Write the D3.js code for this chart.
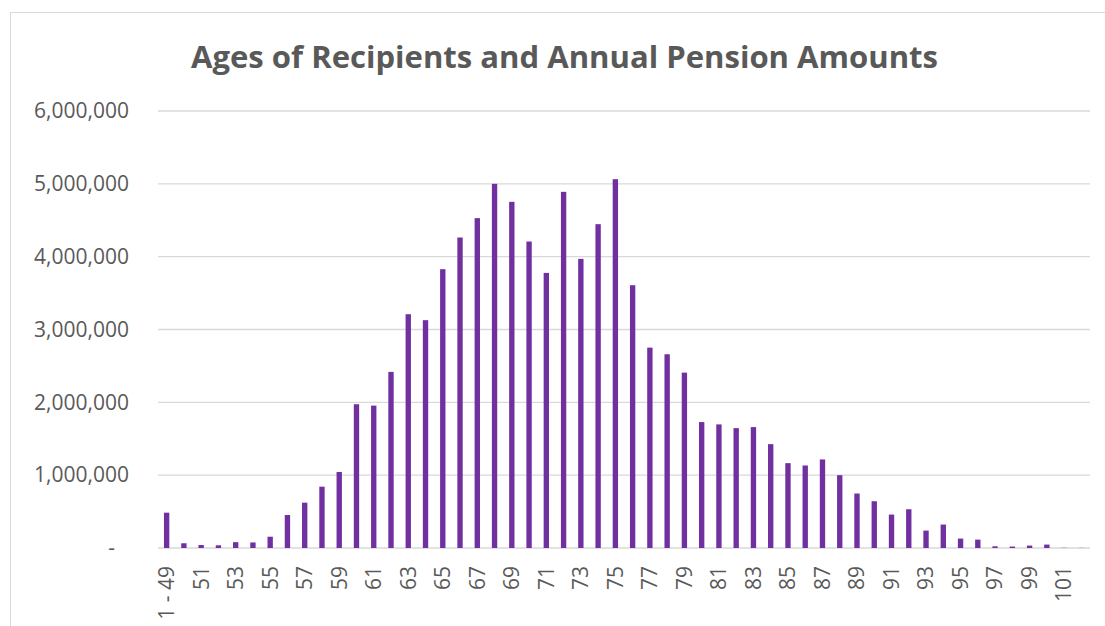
<!DOCTYPE html>
<html>
<head>
<meta charset="utf-8">
<script src="https://cdn.jsdelivr.net/npm/d3@7"></script>
<style>
  body { margin: 0; background: #fff; }
  text { font-family: "Open Sans", "Liberation Sans", sans-serif; fill: #595959; }
</style>
</head>
<body>
<div id="chart"></div>
<script>
// AGES OF RECIPIENTS BAR CHART

// Data

var ages = ["1 - 49"];
for (var a = 50; a <= 102; a++) { ages.push(String(a)); }

var amounts = [
    485000,  65000,  41000,  37000,  80000,  76000, 155000, 453000, 622000, 842000,   // 1-49 .. 58
   1044000, 1974000, 1955000, 2418000, 3210000, 3128000, 3828000, 4263000, 4529000, 5000000, // 59 .. 68
   4753000, 4208000, 3777000, 4890000, 3970000, 4446000, 5064000, 3608000, 2751000, 2660000, // 69 .. 78
   2408000, 1729000, 1697000, 1646000, 1660000, 1426000, 1165000, 1133000, 1216000, 1000000, // 79 .. 88
    748000,  642000,  459000,  532000,  239000,  322000,  129000,  115000,   23000,   20000, // 89 .. 98
     33000,   47000,    3000,    2000                                                      // 99 .. 102
];

var yTicks = [0, 1000000, 2000000, 3000000, 4000000, 5000000, 6000000];
var title = "Ages of Recipients and Annual Pension Amounts";

// Chart variables

var W = 1105, H = 626;
var margin = {top: 111, right: 15, bottom: 78, left: 158};
var width = 1090 - margin.left;
var height = 548 - margin.top;

var svg = d3.select("#chart")
            .append("svg")
            .attr("width", W)
            .attr("height", H);

// Chart frame

svg.append("rect")
   .attr("x", 10.5).attr("y", 12.5)
   .attr("width", 1200).attr("height", 700)
   .attr("fill", "none")
   .attr("stroke", "#d9d9d9")
   .attr("stroke-width", 1);

// Title

svg.append("text")
   .attr("x", 564.5)
   .attr("y", 68)
   .attr("text-anchor", "middle")
   .attr("font-weight", "bold")
   .attr("font-size", 31)
   .attr("textLength", 747)
   .attr("lengthAdjust", "spacingAndGlyphs")
   .text(title);

var g = svg.append("g")
           .attr("transform", "translate(" + margin.left + "," + margin.top + ")");

// Scales

var x = d3.scaleBand()
          .range([0, width])
          .paddingInner(0.69)
          .paddingOuter(0.345)
          .domain(ages);

var y = d3.scaleLinear()
          .range([height, 0])
          .domain([0, 6000000]);

// Gridlines

g.selectAll(".grid")
 .data(yTicks)
 .enter()
 .append("line")
 .attr("class", "grid")
 .attr("x1", 0).attr("x2", width)
 .attr("y1", function(d) { return y(d); })
 .attr("y2", function(d) { return y(d); })
 .attr("stroke", "#d9d9d9")
 .attr("stroke-width", 1.3);

// Bars

g.selectAll(".bar")
 .data(amounts)
 .enter()
 .append("rect")
 .attr("class", "bar")
 .attr("x", function(d, i) { return x(ages[i]); })
 .attr("width", x.bandwidth())
 .attr("y", function(d) { return y(d); })
 .attr("height", function(d) { return height - y(d); })
 .attr("fill", "#7030a0");

// Y axis

var fmt = d3.format(",");
var yAxis = g.append("g")
             .call(d3.axisLeft(y)
                     .tickValues(yTicks)
                     .tickSize(0)
                     .tickPadding(29)
                     .tickFormat(function(d) { return d === 0 ? "-" : fmt(d); }));
yAxis.select(".domain").remove();
yAxis.selectAll("text")
     .attr("font-size", 21)
     .attr("fill", "#595959")
     .attr("font-family", "Open Sans, sans-serif");
yAxis.selectAll(".tick")
     .filter(function(d) { return d === 0; })
     .select("text")
     .attr("dx", -14);

// X axis

var xAxis = g.append("g")
             .attr("transform", "translate(0," + height + ")")
             .call(d3.axisBottom(x)
                     .tickValues(ages.filter(function(d, i) { return i % 2 === 0; }))
                     .tickSize(0));
xAxis.select(".domain").remove();
xAxis.selectAll("text")
     .attr("font-size", 21)
     .attr("fill", "#595959")
     .attr("font-family", "Open Sans, sans-serif")
     .attr("transform", "rotate(-90)")
     .attr("text-anchor", "end")
     .attr("x", -18)
     .attr("y", 0)
     .attr("dy", "0.35em");
</script>
</body>
</html>
